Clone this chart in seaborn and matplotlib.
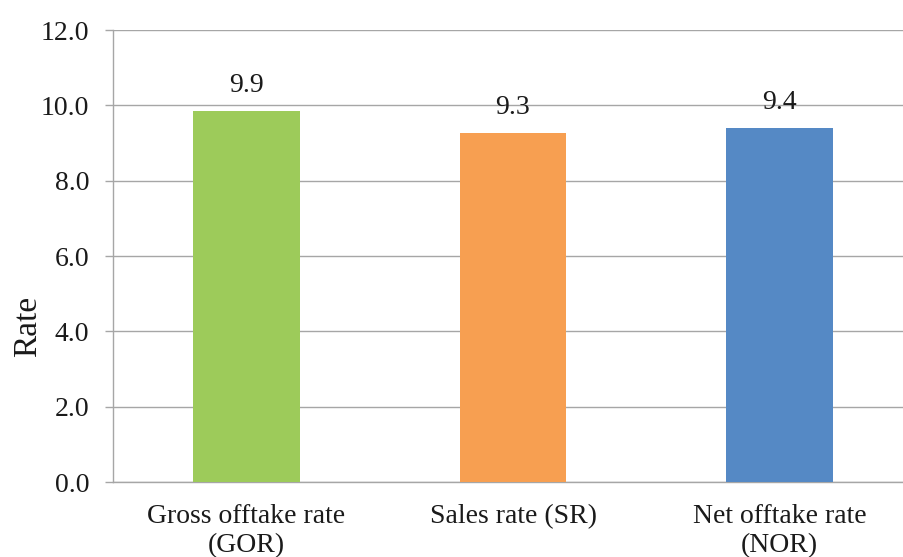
import numpy as np
import pandas as pd
import seaborn as sns
import matplotlib.pyplot as plt

# Data
categories = ['Gross offtake rate\n(GOR)', 'Sales rate (SR)', 'Net offtake rate\n(NOR)']
rates = [9.86, 9.27, 9.41]
bar_colors = ['#9DCB5A', '#F79F51', '#5589C5']

df = pd.DataFrame({'category': categories, 'rate': rates})

sns.set_style('white')
plt.rcParams['font.family'] = ['Liberation Serif', 'DejaVu Serif']

fig = plt.figure(figsize=(9.04, 5.57), dpi=100)
ax = fig.add_axes([113 / 904, 75 / 557, 800 / 904, 452 / 557])

sns.barplot(data=df, x='category', y='rate', hue='category', palette=bar_colors,
            legend=False, width=0.4, saturation=1, linewidth=0, edgecolor='none',
            ax=ax, zorder=3)

for c in ax.containers:
    ax.bar_label(c, fmt='%.1f', padding=9, fontsize=20, color='#1a1a1a')

ax.set_ylim(0, 12)
ax.set_xlim(-0.5, 2.5)
ax.set_yticks(np.arange(0, 12.1, 2))
ax.set_yticklabels([f'{v:.1f}' for v in np.arange(0, 12.1, 2)])
ax.yaxis.grid(True, color='#A6A6A6', linewidth=1.0, zorder=0)
ax.set_axisbelow(True)

# ticks at category boundaries on the x axis
ax.set_xticks([0, 1, 2])
ax.set_xticks([-0.5, 0.5, 1.5, 2.5], minor=True)
ax.tick_params(axis='x', which='major', length=0, pad=16, labelsize=20,
               labelcolor='#1a1a1a')
ax.tick_params(axis='x', which='minor', length=6, color='#A6A6A6', width=1)
ax.tick_params(axis='y', which='major', length=6, color='#A6A6A6', width=1,
               labelsize=20, labelcolor='#1a1a1a', pad=11, left=True)

for side in ['top', 'right']:
    ax.spines[side].set_visible(False)
for side in ['left', 'bottom']:
    ax.spines[side].set_color('#A6A6A6')
    ax.spines[side].set_linewidth(1.0)

ax.set_xlabel('')
ax.set_ylabel('Rate', fontsize=24, color='#1a1a1a')
ax.yaxis.set_label_coords(-0.087, 0.345)

plt.savefig('out.png', dpi=100)
plt.close()
